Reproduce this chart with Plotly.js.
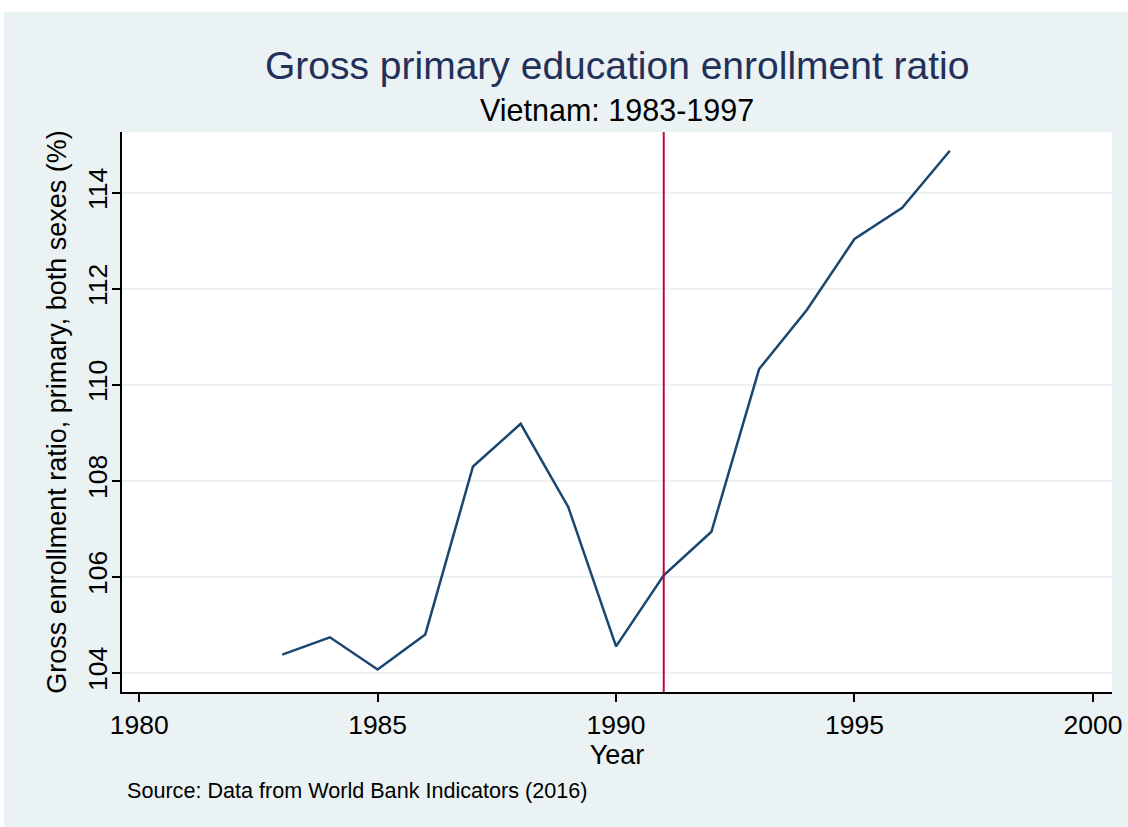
<!DOCTYPE html>
<html>
<head>
<meta charset="utf-8">
<script src="https://cdn.plot.ly/plotly-3.0.1.min.js"></script>
<style>
html,body{margin:0;padding:0;background:#ffffff;width:1128px;height:827px;overflow:hidden;}
#chart{position:absolute;left:4px;top:12px;width:1124px;height:815px;}
</style>
</head>
<body>
<div id="chart"></div>
<script>
const years = [1983,1984,1985,1986,1987,1988,1989,1990,1991,1992,1993,1994,1995,1996,1997];
const enrollment = [104.38,104.74,104.07,104.80,108.30,109.19,107.45,104.55,106.03,106.94,110.33,111.56,113.04,113.69,114.88];
const markerYear = 1991;
const xTicks = [1980,1985,1990,1995,2000];
const yTicks = [104,106,108,110,112,114];
const titleText = "Gross primary education enrollment ratio";
const subtitleText = "Vietnam: 1983-1997";
const noteText = "Source: Data from World Bank Indicators (2016)";
const xTitle = "Year";
const yTitle = "Gross enrollment ratio, primary, both sexes (%)";

const font = "Liberation Sans, Arial, Helvetica, sans-serif";

const data = [{
  x: years, y: enrollment, type: "scatter", mode: "lines",
  line: {color: "#1a476f", width: 2.5}, hoverinfo: "x+y"
}];

const layout = {
  width: 1124, height: 815,
  margin: {l: 118, r: 16, t: 120, b: 135},
  paper_bgcolor: "#eaf2f3", plot_bgcolor: "#ffffff",
  showlegend: false,
  font: {family: font, color: "#000000"},
  xaxis: {
    range: [1979.64, 2000.4], tickvals: xTicks, ticktext: xTicks.map(String),
    showgrid: false, zeroline: false, showline: true, linecolor: "#000000", linewidth: 1.5,
    ticks: "outside", ticklen: 8, tickwidth: 1.5, tickcolor: "#000000",
    tickfont: {size: 26.5, family: font},
    title: {text: xTitle, font: {size: 27, family: font}, standoff: 4}
  },
  yaxis: {
    range: [103.6, 115.27], tickvals: yTicks, ticktext: yTicks.map(String),
    tickangle: -90, ticklabelstandoff: -5,
    showgrid: true, gridcolor: "#eaf2f3", gridwidth: 2,
    zeroline: false, showline: true, linecolor: "#000000", linewidth: 1.5,
    ticks: "outside", ticklen: 8, tickwidth: 1.5, tickcolor: "#000000",
    tickfont: {size: 26.5, family: font},
    title: {text: yTitle, font: {size: 27, family: font}, standoff: 8}
  },
  shapes: [{
    type: "line", xref: "x", yref: "paper", x0: markerYear, x1: markerYear, y0: 0, y1: 1,
    line: {color: "#c10534", width: 2}
  }],
  annotations: [
    {text: titleText, xref: "paper", yref: "paper", x: 0.5, y: 1, yshift: 67,
     xanchor: "center", yanchor: "middle", showarrow: false,
     font: {size: 39, color: "#22305a", family: font}},
    {text: subtitleText, xref: "paper", yref: "paper", x: 0.5, y: 1, yshift: 22,
     xanchor: "center", yanchor: "middle", showarrow: false,
     font: {size: 30.5, color: "#000000", family: font}},
    {text: noteText, xref: "paper", yref: "paper", x: 0.003, y: 0, yshift: -98,
     xanchor: "left", yanchor: "middle", showarrow: false,
     font: {size: 21.6, color: "#000000", family: font}}
  ]
};

Plotly.newPlot("chart", data, layout, {displayModeBar: false});
</script>
</body>
</html>
